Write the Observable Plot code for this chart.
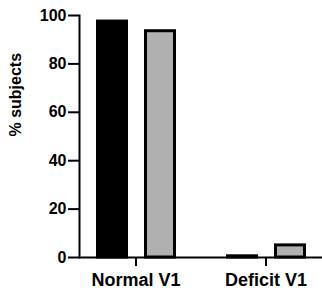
<!DOCTYPE html>
<html><head><meta charset="utf-8">
<script src="https://cdn.jsdelivr.net/npm/d3@7"></script>
<script src="https://cdn.jsdelivr.net/npm/@observablehq/plot@0.6"></script>
<style>body{margin:0;background:#fff;}</style>
</head><body><div id="chart"></div>
<script>
const groups = ["Normal V1", "Deficit V1"];
const seriesBlack = [97.5, 0.5];
const seriesGray = [93.5, 5];
const yTicks = [0, 20, 40, 60, 80, 100];
const yLabel = "% subjects";

const dataBlack = groups.map((g, i) => ({group: g, value: seriesBlack[i]}));
const dataGray = groups.map((g, i) => ({group: g, value: seriesGray[i]}));

const chart = Plot.plot({
  width: 322, height: 294,
  marginLeft: 79, marginRight: 0, marginTop: 15, marginBottom: 37,
  style: {fontFamily: "'Liberation Sans', Arial, sans-serif", fontWeight: "bold", fontSize: "16px", color: "black", background: "white"},
  x: {domain: groups, paddingInner: 0.131, paddingOuter: 0},
  y: {domain: [0, 100]},
  marks: [
    Plot.barY(dataBlack, {x: "group", y: "value", fill: "black", stroke: "black", strokeWidth: 3, insetLeft: 18.5, insetRight: 65.5}),
    Plot.barY(dataGray, {x: "group", y: "value", fill: "#b0b0b0", stroke: "black", strokeWidth: 3, insetLeft: 66.5, insetRight: 17.5}),
    Plot.ruleY([0], {stroke: "black", strokeWidth: 2}),
    Plot.frame({anchor: "left", stroke: "black", strokeWidth: 2}),
    Plot.axisY({ticks: yTicks, tickSize: 11, tickPadding: 2, strokeWidth: 2, strokeOpacity: 1, label: null, fontSize: 16}),
    Plot.text([yLabel], {text: d => d, frameAnchor: "left", rotate: -90, dx: -64, fontSize: 16, fontWeight: "bold", fill: "black"}),
    Plot.axisX({tickSize: 9, tickPadding: 7, strokeWidth: 2, strokeOpacity: 1, fontSize: 18, label: null})
  ]
});
document.getElementById("chart").appendChild(chart);
</script>
</body></html>
